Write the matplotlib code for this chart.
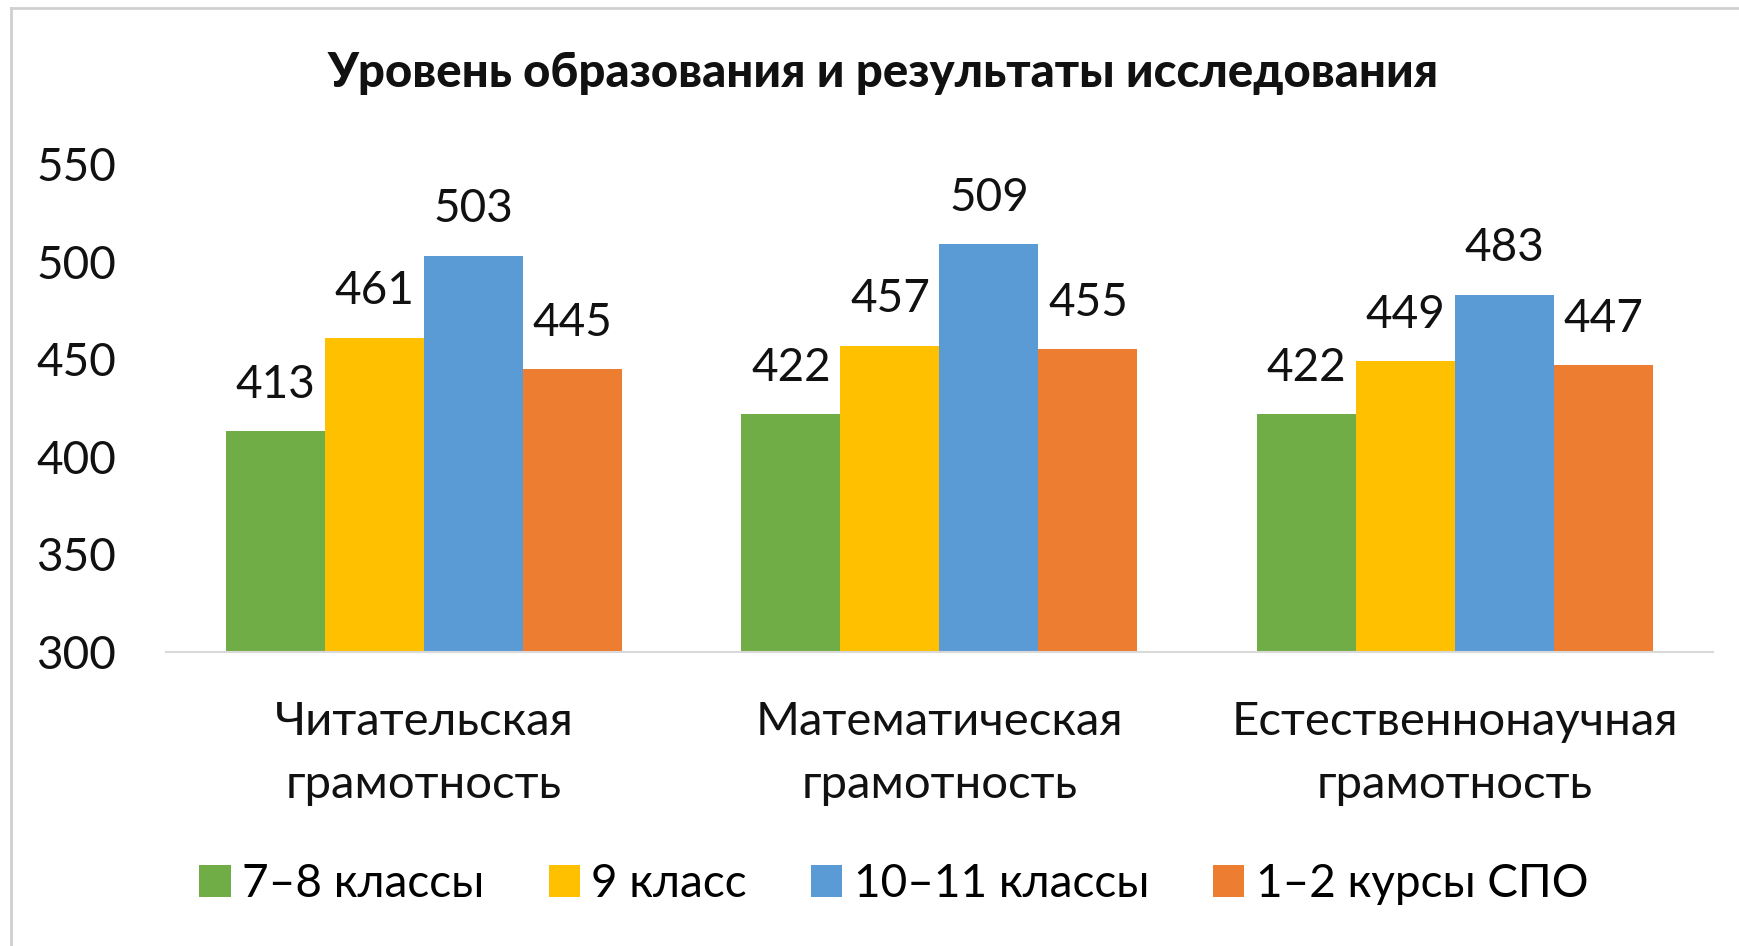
import numpy as np
import matplotlib.pyplot as plt
from matplotlib.lines import Line2D

plt.rcParams['font.family'] = ['Lato', 'DejaVu Sans']

# Данные
categories = ["Читательская\nграмотность", "Математическая\nграмотность", "Естественнонаучная\nграмотность"]
series_names = ["7–8 классы", "9 класс", "10–11 классы", "1–2 курсы СПО"]
vals_78 = [413, 422, 422]
vals_9 = [461, 457, 449]
vals_1011 = [503, 509, 483]
vals_spo = [445, 455, 447]
colors = ["#70AD47", "#FFC000", "#5B9BD5", "#ED7D31"]
yticks = [300, 350, 400, 450, 500, 550]

series = [vals_78, vals_9, vals_1011, vals_spo]

fig = plt.figure(figsize=(17.39, 9.46), dpi=100)
ax = fig.add_axes([0.0955, 0.3108, 0.8895, 0.5158])

x = np.arange(len(categories))
w = 0.192
for i, (vals, name, col) in enumerate(zip(series, series_names, colors)):
    pos = x + (i - 1.5) * w
    bars = ax.bar(pos, vals, width=w, color=col, label=name, zorder=2)
    for b, v in zip(bars, vals):
        ax.annotate(str(v), (b.get_x() + b.get_width() / 2, v), xytext=(0, 24),
                    textcoords="offset points", ha="center", va="baseline",
                    fontsize=33, color="#111111")

ax.set_xlim(-0.5, 2.5)
ax.set_ylim(300, 550)
ax.set_yticks(yticks)
ax.set_xticks(x)
ax.set_xticklabels(categories, fontsize=34, linespacing=1.62)
ax.tick_params(axis="both", length=0, colors="#111111")
ax.tick_params(axis="y", pad=36, labelsize=33)
ax.tick_params(axis="x", pad=35)
for s in ["top", "right", "left"]:
    ax.spines[s].set_visible(False)
ax.spines["bottom"].set_color("#D9D9D9")
ax.spines["bottom"].set_linewidth(1.5)

fig.text(0.508, 0.923, "Уровень образования и результаты исследования",
         ha="center", va="center", fontsize=34, fontweight="black", color="#111111")

fig.legend(loc="center", bbox_to_anchor=(0.514, 0.0655), ncol=4, frameon=False,
           fontsize=33, handlelength=0.68, handleheight=0.68, handletextpad=0.25,
           columnspacing=1.4)

# рамка
fig.add_artist(Line2D([0.0063, 0.0063], [0, 0.9915], color="#D0D0D0", lw=2, transform=fig.transFigure))
fig.add_artist(Line2D([0.0063, 1], [0.9915, 0.9915], color="#D0D0D0", lw=2, transform=fig.transFigure))

fig.savefig("out.png", dpi=100)
